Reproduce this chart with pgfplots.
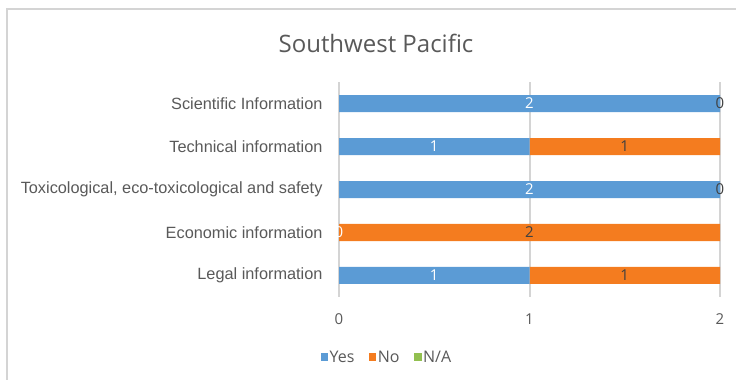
\documentclass[border=0pt]{standalone}
\usepackage{fontspec}
\setmainfont{Open Sans}
\newfontfamily\catfont{Liberation Sans}
\usepackage{pgfplots}
\usepackage{pgfplotstable}
\pgfplotsset{compat=1.18}

\definecolor{yescol}{HTML}{5B9BD5}
\definecolor{nocol}{HTML}{F47C1F}
\definecolor{nacol}{HTML}{92C050}
\definecolor{txt}{HTML}{595959}
\definecolor{lbl}{HTML}{404040}
\definecolor{gridc}{HTML}{D4D4D4}

% answers per information type (idx 0 = bottom row)
\pgfplotstableread{
idx yes no na
0   1   1  0
1   0   2  0
2   2   0  0
3   1   1  0
4   2   0  0
}\survey

\pgfplotsset{
  common/.style={
    at={(339pt,83pt)}, anchor=south west,
    scale only axis, width=381pt, height=215pt,
    xmin=0, xmax=2, ymin=-0.5, ymax=4.5,
    enlargelimits=false,
  },
}

\begin{document}
\begin{tikzpicture}[x=1pt,y=1pt]
\useasboundingbox (0,0) rectangle (736,380);
% chart frame
\draw[gridc, line width=2pt] (6.5,-10) -- (6.5,370.5) -- (760,370.5);

\node[text=txt, font=\fontsize{24}{24}\selectfont] at (376,337) {Southwest Pacific};

\begin{axis}[common,
  xbar stacked, bar width=17pt,
  axis line style={draw=none}, major tick style={draw=none},
  xtick={0,1,2}, xmajorgrids,
  grid style={gridc, line width=2pt},
  ytick={0,1,2,3,4},
  yticklabels={Legal information, Economic information,
    {Toxicological, eco-toxicological and safety},
    Technical information, Scientific Information},
  yticklabel style={font=\catfont\fontsize{16.3}{16.3}\selectfont, text=txt, xshift=-13pt},
  /pgf/number format/assume math mode=true,
  xticklabel style={font=\fontsize{15}{15}\selectfont, text=txt, yshift=-13pt},
  legend columns=3,
  legend style={draw=none, at={(0.108,-0.28)}, anchor=center,
    font=\fontsize{16}{16}\selectfont, text=txt, column sep=0pt,
    nodes={inner xsep=1.5pt}},
  legend cell align=left,
  % square swatch with a leading gap that separates the entries
  legend image code/.code={\path (-13pt,0pt);
    \fill[#1] (0pt,-3.5pt) rectangle (7.5pt,4pt);},
]
\addplot[draw=none, fill=yescol] table[x=yes, y=idx] {\survey};
\addplot[draw=none, fill=nocol]  table[x=no,  y=idx] {\survey};
\addplot[draw=none, fill=nacol]  table[x=na,  y=idx] {\survey};
\legend{Yes, No, N/A}
\end{axis}

% value labels centred on each segment
\begin{axis}[common, hide axis, clip=false]
\addplot[draw=none, mark=none, nodes near coords, point meta=explicit symbolic,
  every node near coord/.append style={anchor=center, text=white,
    font=\fontsize{15}{15}\selectfont}]
  table[x expr=\thisrow{yes}/2, y=idx, meta=yes] {\survey};
\addplot[draw=none, mark=none, nodes near coords, point meta=explicit symbolic,
  every node near coord/.append style={anchor=center, text=lbl,
    font=\fontsize{15}{15}\selectfont}]
  table[x expr=\thisrow{yes}+\thisrow{no}/2, y=idx, meta=no] {\survey};
\end{axis}
\end{tikzpicture}
\end{document}
